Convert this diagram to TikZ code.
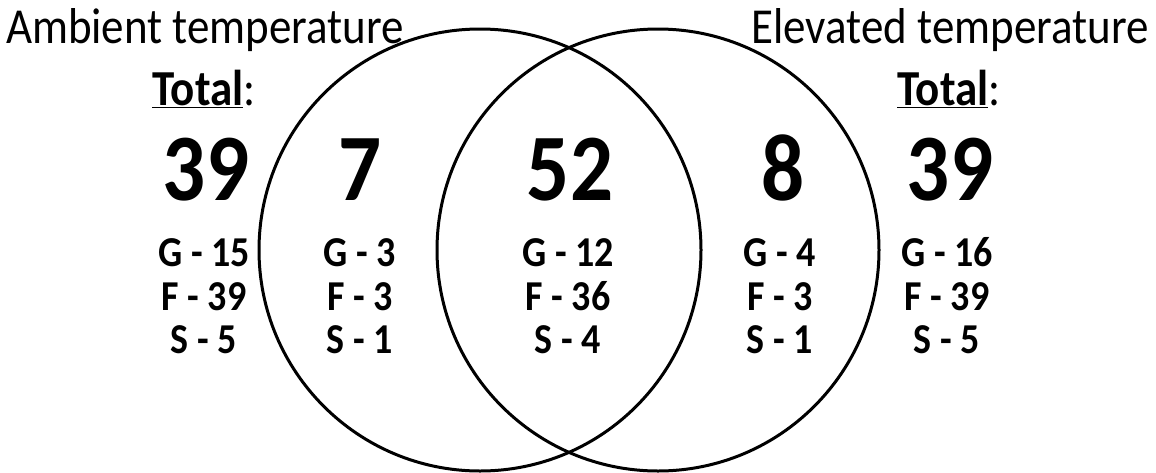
\documentclass[tikz,border=0pt]{standalone}
\usepackage{fontspec}
\setmainfont{Carlito}
\usepackage{graphicx}
\usepackage{tikz}

\newcommand{\tallify}[1]{\scalebox{1}[1.12]{#1}}

\begin{document}
\begin{tikzpicture}[x=1pt,y=-1pt,
  heading/.style={anchor=base,inner sep=0pt,font=\fontsize{45}{45}\selectfont},
  bignum/.style={anchor=base,inner sep=0pt,font=\fontsize{85}{85}\selectfont\bfseries},
  counts/.style={anchor=base,inner sep=0pt,font=\fontsize{38}{38}\selectfont\bfseries}]
\useasboundingbox (0,0) rectangle (1156,472);
% the two sets
\draw[line width=3pt] (480,250) circle[radius=221pt];
\draw[line width=3pt] (658,250) circle[radius=221pt];

\node[heading] (ambient) at (205,43) {\tallify{Ambient temperature}};
\node[heading] (totalA) at (204,105) {\tallify{\textbf{\underline{Total}}:}};
\node[heading] (elevated) at (950,43) {\tallify{Elevated temperature}};
\node[heading] (totalE) at (949,105) {\tallify{\textbf{\underline{Total}}:}};

\foreach \x/\n [count=\i] in {206/39, 360/7, 570/52, 783/8, 950/39}
  \node[bignum] (num\i) at (\x,200) {\tallify{\n}};

\foreach \x/\g/\f/\s [count=\i] in {204/15/39/5, 360/3/3/1, 568/12/36/4, 780/4/3/1, 947/16/39/5} {
  \node[counts] (g\i) at (\x,266) {\tallify{G - \g}};
  \node[counts] (f\i) at (\x,310) {\tallify{F - \f}};
  \node[counts] (s\i) at (\x,353) {\tallify{S - \s}};
}
\end{tikzpicture}
\end{document}
